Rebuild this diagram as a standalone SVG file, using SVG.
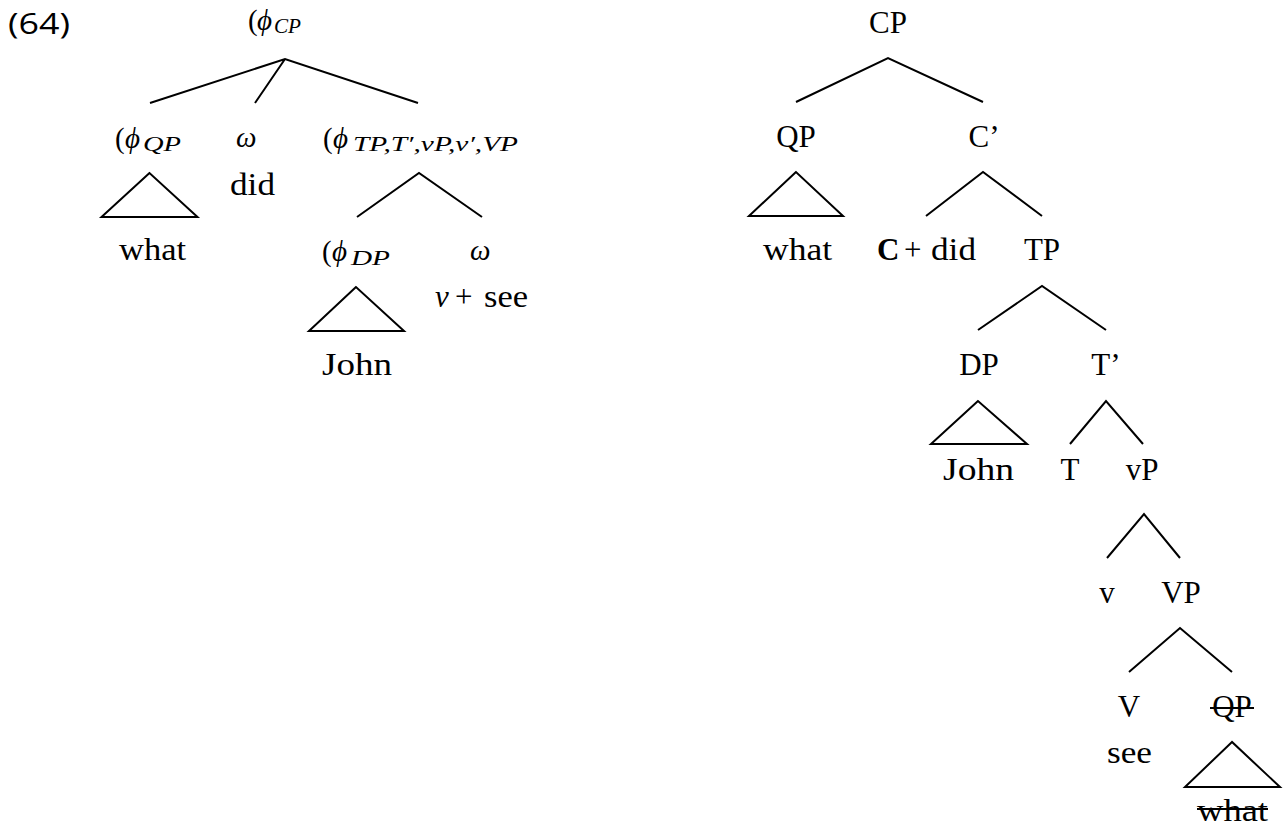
<svg xmlns="http://www.w3.org/2000/svg" width="1284" height="833" viewBox="0 0 1284 833">
  <style>
    .w { font-family: "Liberation Serif", "DejaVu Serif", serif; font-size: 31px; fill: #000; }
    .l { font-size: 32px; }
    .b { font-weight: bold; }
    .m { font-family: "Liberation Serif", "DejaVu Serif", serif; font-style: italic; font-size: 29px; fill: #000; }
    .p { font-family: "Liberation Serif", "DejaVu Serif", serif; font-size: 29px; fill: #000; }
    .s { font-family: "Liberation Serif", "DejaVu Serif", serif; font-style: italic; font-size: 20px; fill: #000; }
    .n { font-family: "Open Sans", "Liberation Sans", sans-serif; font-size: 30px; fill: #000; }
    .e { stroke: #000; stroke-width: 2; fill: none; stroke-linejoin: miter; }
  </style>

  <!-- example number -->
  <text id="exnum" class="n" x="8" y="34" textLength="62" lengthAdjust="spacingAndGlyphs">(64)</text>

  <!-- ===== prosodic structure (left) ===== -->
  <g id="pros-cp">
    <text class="p" x="248" y="30">(</text>
    <text class="m" x="257" y="30">ϕ</text>
    <text class="s" x="274" y="33" textLength="27" lengthAdjust="spacingAndGlyphs">CP</text>
  </g>
  <g id="pros-qp">
    <text class="p" x="115" y="148">(</text>
    <text class="m" x="125" y="148">ϕ</text>
    <text class="s" x="143" y="151" textLength="38" lengthAdjust="spacingAndGlyphs">QP</text>
  </g>
  <g id="pros-omega1">
    <text class="m" x="236" y="147">ω</text>
  </g>
  <g id="pros-did">
    <text class="w l" x="230" y="195" textLength="45" lengthAdjust="spacingAndGlyphs">did</text>
  </g>
  <g id="pros-tp">
    <text class="p" x="323" y="148">(</text>
    <text class="m" x="333" y="148">ϕ</text>
    <text class="s" x="353" y="151" textLength="165" lengthAdjust="spacingAndGlyphs">TP,T′,vP,v′,VP</text>
  </g>
  <g id="pros-what">
    <text class="w l" x="119" y="260" textLength="67" lengthAdjust="spacingAndGlyphs">what</text>
  </g>
  <g id="pros-dp">
    <text class="p" x="322" y="261">(</text>
    <text class="m" x="332" y="261">ϕ</text>
    <text class="s" x="351" y="265" textLength="39" lengthAdjust="spacingAndGlyphs">DP</text>
  </g>
  <g id="pros-omega2">
    <text class="m" x="470" y="260">ω</text>
  </g>
  <g id="pros-vsee">
    <text class="m" x="435" y="307" style="font-size:31px">v</text>
    <text class="w" x="455" y="307">+</text>
    <text class="w l" x="484" y="307" textLength="44" lengthAdjust="spacingAndGlyphs">see</text>
  </g>
  <g id="pros-john">
    <text class="w l" x="322" y="375" textLength="70" lengthAdjust="spacingAndGlyphs">John</text>
  </g>

  <!-- ===== syntactic structure (right) ===== -->
  <g id="syn-cp"><text class="w" x="888" y="33" text-anchor="middle">CP</text></g>
  <g id="syn-qp"><text class="w" x="796" y="147" text-anchor="middle">QP</text></g>
  <g id="syn-cbar"><text class="w" x="984" y="147" text-anchor="middle">C’</text></g>
  <g id="syn-what"><text class="w l" x="763" y="260" textLength="69" lengthAdjust="spacingAndGlyphs">what</text></g>
  <g id="syn-cdid">
    <text class="w b" x="877" y="260">C</text>
    <text class="w" x="904" y="260">+</text>
    <text class="w l" x="931" y="260" textLength="45" lengthAdjust="spacingAndGlyphs">did</text>
  </g>
  <g id="syn-tp"><text class="w" x="1042" y="260" text-anchor="middle">TP</text></g>
  <g id="syn-dp"><text class="w" x="979" y="375" text-anchor="middle">DP</text></g>
  <g id="syn-tbar"><text class="w" x="1106" y="375" text-anchor="middle">T’</text></g>
  <g id="syn-john"><text class="w l" x="943" y="480" textLength="71" lengthAdjust="spacingAndGlyphs">John</text></g>
  <g id="syn-t"><text class="w" x="1070" y="480" text-anchor="middle">T</text></g>
  <g id="syn-vp-small"><text class="w" x="1142" y="480" text-anchor="middle">vP</text></g>
  <g id="syn-v-small"><text class="w" x="1107" y="603" text-anchor="middle">v</text></g>
  <g id="syn-vp"><text class="w" x="1181" y="603" text-anchor="middle">VP</text></g>
  <g id="syn-v"><text class="w" x="1129" y="717" text-anchor="middle">V</text></g>
  <g id="syn-see"><text class="w l" x="1107" y="763" textLength="45" lengthAdjust="spacingAndGlyphs">see</text></g>
  <g id="syn-qp-copy">
    <text class="w" x="1232" y="717" text-anchor="middle">QP</text>
    <line class="e" x1="1210" y1="708" x2="1254" y2="708"/>
  </g>
  <g id="syn-what-copy">
    <text class="w l" x="1197" y="821" textLength="71" lengthAdjust="spacingAndGlyphs">what</text>
    <line class="e" x1="1197" y1="809" x2="1268" y2="809"/>
  </g>

  <!-- ===== branches and triangles ===== -->
  <g id="connectors" class="e">
    <!-- prosodic tree -->
    <path class="e" d="M150 103 L285 59 L418 103 M285 59 L255 103"/>
    <polygon class="e" points="149.5,173 101.5,217 197.5,217"/>
    <path class="e" d="M357 217 L419 173 L482 217"/>
    <polygon class="e" points="356,287 309,331 404,331"/>

    <!-- syntactic tree -->
    <path class="e" d="M796 102 L888 58 L983 102"/>
    <polygon class="e" points="796,172 749,216 843,216"/>
    <path class="e" d="M926 216 L983 172 L1042 216"/>
    <path class="e" d="M978 330 L1042 286 L1106 330"/>
    <polygon class="e" points="978,401 931,444 1027,444"/>
    <path class="e" d="M1070 444 L1106 401 L1143 444"/>
    <path class="e" d="M1107 558 L1144 514 L1180 558"/>
    <path class="e" d="M1129 672 L1180 628 L1232 672"/>
    <polygon class="e" points="1232,742 1185,787 1280,787"/>
  </g>
</svg>
